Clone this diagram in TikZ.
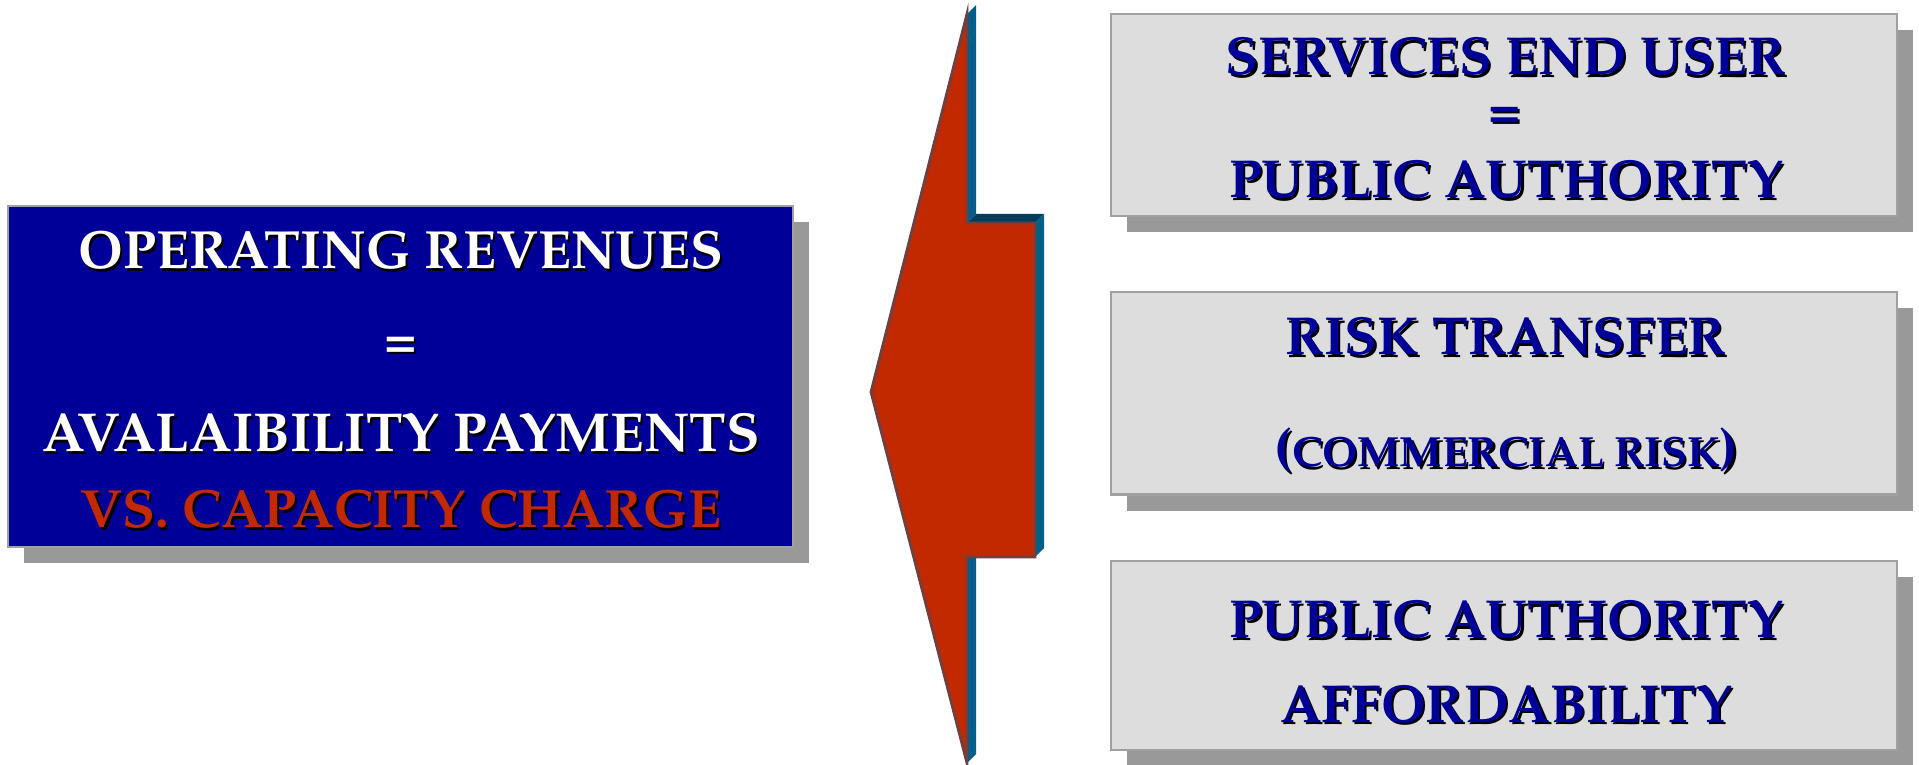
\documentclass[tikz,border=0pt]{standalone}
\usepackage[T1]{fontenc}
\renewcommand{\rmdefault}{ppl}
\usetikzlibrary{shadows}
\definecolor{navy}{RGB}{0,0,153}
\definecolor{arrowred}{RGB}{194,41,0}
\definecolor{rimred}{RGB}{112,64,64}
\definecolor{sideblue}{RGB}{0,94,138}
\definecolor{topblue}{RGB}{0,62,92}
\definecolor{boxgray}{RGB}{221,221,221}
\definecolor{edgegray}{RGB}{160,160,160}
\definecolor{shadowgray}{RGB}{153,153,153}
\newcommand\shadowed[2]{\makebox[0pt][l]{\kern0.6pt\raisebox{-0.6pt}{\color{black}#2}}\textcolor{#1}{#2}}
\tikzset{
  panel/.style={draw=edgegray,line width=0.6pt,inner sep=0pt,
                drop shadow={shadow xshift=0.16cm,shadow yshift=-0.16cm,
                             fill=shadowgray,opacity=1}},
  revbox/.style={panel,fill=navy,minimum width=7.85cm,minimum height=3.41cm},
  factbox/.style={panel,fill=boxgray,minimum width=7.86cm},
  revtxt/.style={inner sep=0pt,anchor=base,font=\bfseries\fontsize{15.3pt}{17pt}\selectfont},
  facttxt/.style={inner sep=0pt,anchor=base,font=\bfseries\fontsize{15.2pt}{17pt}\selectfont}
}

\begin{document}
\begin{tikzpicture}[x=0.01cm,y=-0.01cm]
  \useasboundingbox (0,0) rectangle (1919,765);

  % REVENUES
  \node[revbox] (rev) at (400.5,376.5) {};
  \node[revtxt] (rev1) at (401,269) {\shadowed{white}{OPERATING REVENUES}};
  \node[revtxt,anchor=center] (rev2) at (401,349) {\shadowed{white}{=}};
  \node[revtxt,font=\bfseries\fontsize{15.6pt}{17pt}\selectfont] (rev3) at (401,452) {\shadowed{white}{AVALAIBILITY PAYMENTS}};
  \node[revtxt] (rev4) at (401,528) {\shadowed{arrowred}{VS. CAPACITY CHARGE}};

  % ARROW
  \fill[sideblue] (967,14) -- (976,5) -- (976,214) -- (967,223) -- cycle;      % upper spike side
  \fill[topblue] (967,223) -- (976,214) -- (1044,214) -- (1035,223) -- cycle;  % step top
  \fill[sideblue] (1035,223) -- (1044,214) -- (1044,548) -- (1035,557) -- cycle; % body side
  \fill[sideblue] (967,557) -- (976,548) -- (976,754) -- (967,763) -- cycle;   % lower spike side
  \filldraw[fill=arrowred,draw=rimred,line width=0.8pt]
    (871,392) -- (967,14) -- (967,223) -- (1035,223) -- (1035,557)
    -- (967,557) -- (967,763) -- cycle;

  % FACTORS
  \node[factbox,minimum height=2.02cm] (user) at (1504,115) {};
  \node[facttxt] (user1) at (1506,75) {\shadowed{navy}{SERVICES END USER}};
  \node[facttxt,anchor=center] (user2) at (1505,119) {\shadowed{navy}{=}};
  \node[facttxt] (user3) at (1506,198) {\shadowed{navy}{PUBLIC AUTHORITY}};

  \node[factbox,minimum height=2.02cm] (risk) at (1504,393.5) {};
  \node[facttxt] (risk1) at (1506,355) {\shadowed{navy}{RISK TRANSFER}};
  \node[facttxt] (risk2) at (1506,467) {\shadowed{navy}{({\fontsize{12pt}{14pt}\selectfont COMMERCIAL RISK})}};

  \node[factbox,minimum height=1.89cm] (afford) at (1504,655.5) {};
  \node[facttxt] (afford1) at (1506,638) {\shadowed{navy}{PUBLIC AUTHORITY}};
  \node[facttxt] (afford2) at (1506,722.5) {\shadowed{navy}{AFFORDABILITY}};
\end{tikzpicture}
\end{document}
